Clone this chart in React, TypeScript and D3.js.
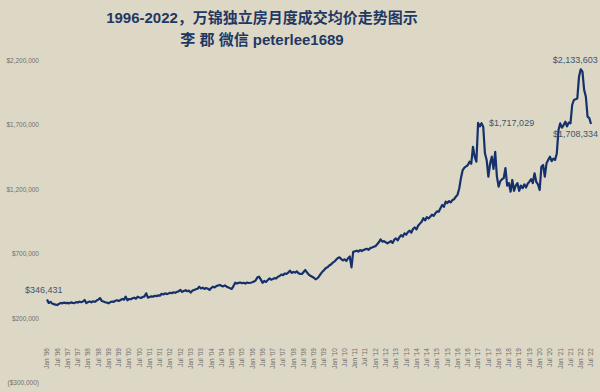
import * as React from "react";
import * as d3 from "d3";

// monthly average price of detached houses, in thousands of dollars (Jan 1996 .. Jul 2022)
const y1996: number[] = [346.431, 319, 328, 315, 310, 306, 303, 312, 319, 316, 322, 318];
const y1997: number[] = [320, 316, 324, 320, 318, 326, 322, 329, 325, 330, 342, 318];
const y1998: number[] = [326, 330, 324, 332, 328, 338, 345, 357, 335, 330, 325, 322];
const y1999: number[] = [316, 325, 330, 328, 336, 340, 335, 342, 350, 345, 368, 340];
const y2000: number[] = [350, 348, 355, 360, 352, 368, 362, 358, 365, 370, 394, 360];
const y2001: number[] = [365, 370, 368, 375, 372, 378, 375, 390, 385, 394, 388, 392];
const y2002: number[] = [398, 395, 402, 398, 405, 410, 420, 405, 412, 418, 410, 415];
const y2003: number[] = [399, 415, 420, 425, 430, 445, 432, 438, 428, 435, 430, 420];
const y2004: number[] = [435, 445, 440, 450, 455, 459, 452, 448, 455, 445, 440, 433];
const y2005: number[] = [428, 450, 476, 470, 475, 478, 472, 476, 470, 478, 474, 476];
const y2006: number[] = [480, 485, 495, 518, 523, 500, 476, 490, 482, 495, 510, 500];
const y2007: number[] = [505, 512, 510, 523, 528, 540, 535, 548, 545, 555, 570, 552];
const y2008: number[] = [560, 555, 565, 550, 545, 544, 560, 575, 555, 540, 530, 523];
const y2009: number[] = [515, 503, 510, 525, 545, 562, 575, 590, 596, 610, 618, 632];
const y2010: number[] = [640, 655, 668, 673, 660, 650, 658, 645, 666, 680, 596, 717];
const y2011: number[] = [720, 725, 718, 730, 722, 730, 735, 740, 732, 745, 750, 756];
const y2012: number[] = [760, 775, 790, 813, 795, 800, 790, 782, 790, 800, 785, 810];
const y2013: number[] = [820, 805, 830, 845, 835, 860, 850, 870, 880, 865, 895, 905];
const y2014: number[] = [890, 920, 935, 950, 977, 960, 985, 975, 989, 1005, 995, 1015];
const y2015: number[] = [1030, 1028, 1055, 1080, 1065, 1105, 1095, 1110, 1100, 1118, 1125, 1144];
const y2016: number[] = [1160, 1210, 1290, 1351, 1370, 1380, 1390, 1416, 1400, 1532, 1455, 1416];
const y2017: number[] = [1717.029, 1690, 1715, 1688, 1481, 1429, 1299, 1400, 1455, 1360, 1493, 1300];
const y2018: number[] = [1222, 1265, 1280, 1289, 1367, 1230, 1250, 1183, 1274, 1190, 1230, 1250];
const y2019: number[] = [1190, 1230, 1210, 1240, 1215, 1245, 1261, 1280, 1250, 1326, 1260, 1240];
const y2020: number[] = [1196, 1377, 1390, 1300, 1403, 1430, 1455, 1420, 1440, 1429, 1480, 1662];
const y2021: number[] = [1714, 1680, 1700, 1726, 1690, 1720, 1714, 1856, 1895, 1900, 1908, 2076];
const y2022: number[] = [2133.603, 2115, 1972, 1920, 1765, 1755, 1708.334];

const years: number[][] = [y1996, y1997, y1998, y1999, y2000, y2001, y2002, y2003, y2004,
    y2005, y2006, y2007, y2008, y2009, y2010, y2011, y2012, y2013, y2014, y2015, y2016,
    y2017, y2018, y2019, y2020, y2021, y2022];

const yTicks: number[] = [-300000, 200000, 700000, 1200000, 1700000, 2200000];
const monthNames: string[] = ["Jan", "Jul"];

// annotated points: month index and label
const callouts: { i: number; dx: number; dy: number; anchor: string }[] = [
    { i: 0, dx: -22, dy: -6, anchor: "start" },
    { i: 252, dx: 11, dy: 3, anchor: "start" },
    { i: 312, dx: -28, dy: -6, anchor: "start" },
    { i: 318, dx: -38, dy: 13, anchor: "start" },
];

interface Point {
    i: number;
    v: number;
}

const navy: string = "#15306b";
const bg: string = "#ddd8c5";

const App = (): JSX.Element => {
    const ref = React.useRef<SVGSVGElement>(null);

    React.useEffect(() => {
        const svg = d3.select(ref.current);
        svg.selectAll("*").remove();

        const points: Point[] = [];
        years.forEach((ys: number[], y: number) => {
            ys.forEach((v: number, m: number) => points.push({ i: y * 12 + m, v: v * 1000 }));
        });

        const x = d3.scaleLinear().domain([0, points.length - 1]).range([47, 591]);
        const y = d3.scaleLinear().domain([-300000, 2200000]).range([382.7, 60.7]);

        svg.append("rect").attr("width", 600).attr("height", 392).attr("fill", bg);

        const title = svg.append("g")
            .attr("fill", "#1f3864")
            .attr("font-weight", "bold")
            .attr("text-anchor", "middle");
        title.append("text")
            .attr("x", 262).attr("y", 23)
            .attr("font-size", 15)
            .attr("font-family", "'Liberation Sans', 'Noto Sans CJK SC', sans-serif")
            .text("1996-2022，万锦独立房月度成交均价走势图示");
        title.append("text")
            .attr("x", 262).attr("y", 45)
            .attr("font-size", 15)
            .attr("font-family", "'Liberation Sans', 'Noto Sans CJK SC', sans-serif")
            .text("李 郡  微信 peterlee1689");

        const fmt = d3.format("$,");
        svg.append("g")
            .selectAll("text")
            .data(yTicks).enter().append("text")
            .attr("x", 39)
            .attr("y", (d: number) => y(d) + 2.3)
            .attr("text-anchor", "end")
            .attr("font-size", 6.5)
            .attr("font-family", "'Liberation Sans', sans-serif")
            .attr("fill", "#6f6f6f")
            .text((d: number) => d < 0 ? `(${fmt(-d)})` : fmt(d));

        const xTicks: number[] = points.filter((p: Point) => p.i % 6 === 0).map((p: Point) => p.i);
        svg.append("g")
            .selectAll("text")
            .data(xTicks).enter().append("text")
            .attr("transform", (d: number) => `translate(${x(d) + 2.3}, ${y(0) + 4}) rotate(-90)`)
            .attr("text-anchor", "end")
            .attr("font-size", 6.5)
            .attr("font-family", "'Liberation Sans', sans-serif")
            .attr("fill", "#6f6f6f")
            .text((d: number) => `${monthNames[(d % 12) / 6]} '${String(1996 + Math.floor(d / 12)).slice(2)}`);

        const line = d3.line<Point>()
            .x((p: Point) => x(p.i))
            .y((p: Point) => y(p.v));
        svg.append("path")
            .datum(points)
            .attr("d", line)
            .attr("fill", "none")
            .attr("stroke", navy)
            .attr("stroke-width", 2.2)
            .attr("stroke-linejoin", "round");

        svg.append("g")
            .selectAll("text")
            .data(callouts).enter().append("text")
            .attr("x", (c) => x(c.i) + c.dx)
            .attr("y", (c) => y(points[c.i].v) + c.dy)
            .attr("text-anchor", (c) => c.anchor)
            .attr("font-size", 9)
            .attr("font-family", "'Liberation Sans', sans-serif")
            .attr("fill", "#44546a")
            .text((c) => fmt(Math.round(points[c.i].v)));
    }, []);

    return <svg ref={ref} width={600} height={392}
        style={{ position: "absolute", left: 0, top: 0, display: "block" }} />;
};

export default App;
